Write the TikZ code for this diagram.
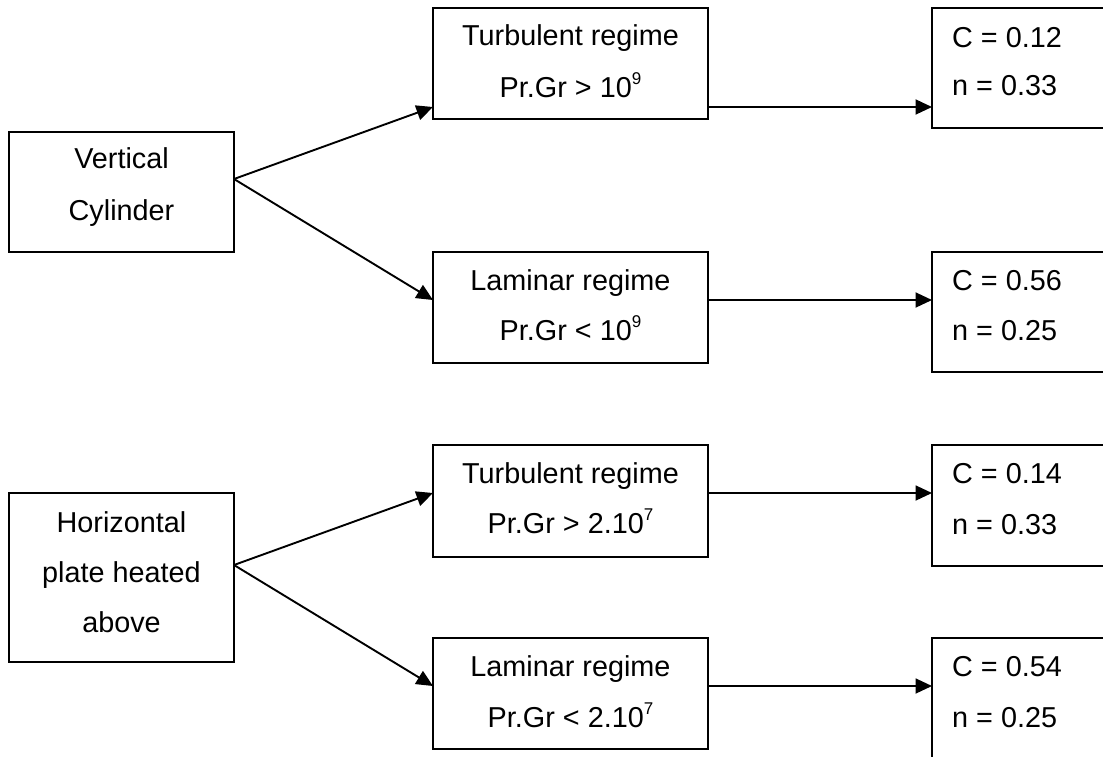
\documentclass[tikz,border=0pt]{standalone}
\usepackage{fontspec}
\setmainfont{Liberation Sans}
\usetikzlibrary{arrows.meta}
\newcommand\supnum[1]{\raisebox{0.42em}{\fontsize{17}{17}\selectfont #1}}
\begin{document}
\begin{tikzpicture}[x=1pt,y=-1pt,
  box/.style={draw, line width=1.9pt, inner sep=0pt, outer sep=0pt, anchor=north west},
  txt/.style={anchor=base, inner sep=0pt, font=\fontsize{28.8}{30}\selectfont},
  ltxt/.style={anchor=base west, inner sep=0pt, font=\fontsize{28.8}{30}\selectfont},
  arr/.style={line width=1.9pt, -{Triangle[length=16.5pt,width=15pt]}}]
\useasboundingbox (0,0) rectangle (1103,756);
\clip (0,0) rectangle (1103,756);
% left boxes
\node[box, minimum width=225pt, minimum height=120pt] (vc) at (9,132) {};
\node[box, minimum width=225pt, minimum height=169pt] (hp) at (9,493) {};
% middle boxes
\node[box, minimum width=275pt, minimum height=111pt] (t1) at (433,8) {};
\node[box, minimum width=275pt, minimum height=111pt] (l1) at (433,252) {};
\node[box, minimum width=275pt, minimum height=112pt] (t2) at (433,445) {};
\node[box, minimum width=275pt, minimum height=111pt] (l2) at (433,638) {};
% right boxes
\node[box, minimum width=200pt, minimum height=120pt] (c1) at (932,8) {};
\node[box, minimum width=200pt, minimum height=120pt] (c2) at (932,252) {};
\node[box, minimum width=200pt, minimum height=121pt] (c3) at (932,445) {};
\node[box, minimum width=200pt, minimum height=130pt] (c4) at (932,638) {};
% texts
\node[txt] (vca) at (121.5,168) {Vertical};
\node[txt] (vcb) at (121.5,220) {Cylinder};
\node[txt] (hpa) at (121.5,532) {Horizontal};
\node[txt] (hpb) at (121.5,582) {plate heated};
\node[txt] (hpc) at (121.5,632) {above};
\node[txt] (t1a) at (570.5,45) {Turbulent regime};
\node[txt] (t1b) at (570.5,97) {Pr.Gr > 10\supnum{9}};
\node[txt] (l1a) at (570.5,290) {Laminar regime};
\node[txt] (l1b) at (570.5,340) {Pr.Gr < 10\supnum{9}};
\node[txt] (t2a) at (570.5,483) {Turbulent regime};
\node[txt] (t2b) at (570.5,533) {Pr.Gr > 2.10\supnum{7}};
\node[txt] (l2a) at (570.5,676) {Laminar regime};
\node[txt] (l2b) at (570.5,727) {Pr.Gr < 2.10\supnum{7}};
\node[ltxt] (c1a) at (952,47) {C = 0.12};
\node[ltxt] (c1b) at (952,95) {n = 0.33};
\node[ltxt] (c2a) at (952,290) {C = 0.56};
\node[ltxt] (c2b) at (952,340) {n = 0.25};
\node[ltxt] (c3a) at (952,483) {C = 0.14};
\node[ltxt] (c3b) at (952,534) {n = 0.33};
\node[ltxt] (c4a) at (952,676) {C = 0.54};
\node[ltxt] (c4b) at (952,727) {n = 0.25};
% connector points
\coordinate (vco) at ([yshift=-47pt]vc.north east);
\coordinate (hpo) at ([yshift=-72pt]hp.north east);
\coordinate (t1i) at ([yshift=12pt]t1.south west);
\coordinate (t1o) at ([yshift=12pt]t1.south east);
\coordinate (l1i) at ([yshift=-48pt]l1.north west);
\coordinate (l1o) at ([yshift=-48pt]l1.north east);
\coordinate (t2i) at ([yshift=-48pt]t2.north west);
\coordinate (t2o) at ([yshift=-48pt]t2.north east);
\coordinate (l2i) at ([yshift=-48pt]l2.north west);
\coordinate (l2o) at ([yshift=-48pt]l2.north east);
% connectors
\draw[arr] (vco) -- (t1i);
\draw[arr] (vco) -- (l1i);
\draw[arr] (hpo) -- (t2i);
\draw[arr] (hpo) -- (l2i);
\draw[arr] (t1o) -- (t1o -| c1.west);
\draw[arr] (l1o) -- (l1o -| c2.west);
\draw[arr] (t2o) -- (t2o -| c3.west);
\draw[arr] (l2o) -- (l2o -| c4.west);
\end{tikzpicture}
\end{document}
